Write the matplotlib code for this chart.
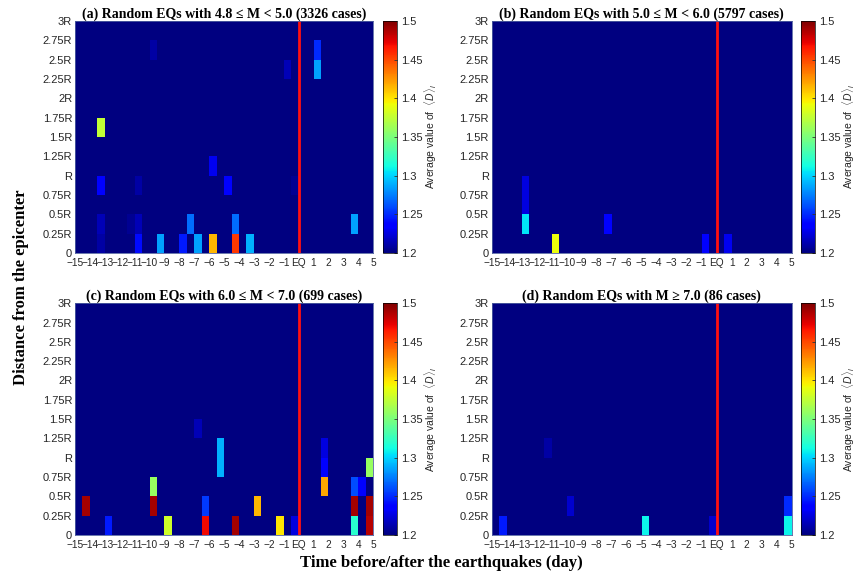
import numpy as np
import matplotlib
matplotlib.use("Agg")
from matplotlib import pyplot as plt

# bins: half-day columns from -15 to 5, 0.25R rows from 0 to 3R
day_edges = np.arange(-15, 5.01, 0.5)
dist_edges = np.arange(0, 3.01, 0.25)
base_value = 1.2

titles = [
    "(a) Random EQs with 4.8 \u2264 M < 5.0 (3326 cases)",
    "(b) Random EQs with 5.0 \u2264 M < 6.0 (5797 cases)",
    "(c) Random EQs with 6.0 \u2264 M < 7.0 (699 cases)",
    "(d) Random EQs with M \u2265 7.0 (86 cases)",
]

# cells above background: (day of left edge, distance of lower edge, value)
cells_a = [
    (-13.5, 1.5, 1.375), (-13.5, 0.75, 1.235), (-13.5, 0.25, 1.215), (-13.5, 0.0, 1.21),
    (-10.0, 2.5, 1.21), (-1.0, 2.25, 1.215), (1.0, 2.5, 1.25), (1.0, 2.25, 1.285),
    (-6.0, 1.0, 1.23), (-5.0, 0.75, 1.235),
    (-11.0, 0.75, 1.21), (-11.0, 0.25, 1.215), (-11.0, 0.0, 1.24), (-11.5, 0.25, 1.205),
    (-9.5, 0.0, 1.285), (-8.0, 0.0, 1.245), (-7.5, 0.25, 1.27), (-7.0, 0.0, 1.285),
    (-6.0, 0.0, 1.415), (-4.5, 0.25, 1.27), (-4.5, 0.0, 1.455), (-3.5, 0.0, 1.29),
    (3.5, 0.25, 1.285), (-0.5, 0.75, 1.205),
]
cells_b = [
    (-13.0, 0.25, 1.305), (-13.0, 0.5, 1.225), (-13.0, 0.75, 1.225),
    (-11.0, 0.0, 1.39), (-7.5, 0.25, 1.235), (-1.0, 0.0, 1.235), (0.5, 0.0, 1.23),
]
cells_c = [
    (-14.5, 0.25, 1.49), (-13.0, 0.0, 1.245), (-10.0, 0.5, 1.36), (-10.0, 0.25, 1.49),
    (-9.0, 0.0, 1.38), (-7.0, 1.25, 1.215), (-6.5, 0.25, 1.255), (-6.5, 0.0, 1.47),
    (-5.5, 0.75, 1.29), (-5.5, 1.0, 1.29), (-4.5, 0.0, 1.49), (-3.0, 0.25, 1.415),
    (-1.5, 0.0, 1.40), (-0.5, 0.0, 1.225),
    (1.5, 0.5, 1.42), (1.5, 0.75, 1.235), (1.5, 1.0, 1.225),
    (3.5, 0.5, 1.26), (3.5, 0.25, 1.49), (3.5, 0.0, 1.32), (4.0, 0.5, 1.235),
    (4.5, 0.75, 1.36), (4.5, 0.25, 1.49), (4.5, 0.0, 1.485),
]
cells_d = [
    (-14.5, 0.0, 1.245), (-11.5, 1.0, 1.21), (-10.0, 0.25, 1.22), (-5.0, 0.0, 1.31),
    (-0.5, 0.0, 1.22), (4.5, 0.25, 1.25), (4.5, 0.0, 1.31),
]
panel_cells = [cells_a, cells_b, cells_c, cells_d]

xtick_vals = np.arange(-15, 6)
xtick_labels = ["\u2212%d" % -v for v in range(-15, 0)] + ["EQ"] + [str(v) for v in range(1, 6)]
ytick_vals = np.arange(0, 3.01, 0.25)
ytick_labels = ["0", "0.25R", "0.5R", "0.75R", "R", "1.25R", "1.5R", "1.75R",
                "2R", "2.25R", "2.5R", "2.75R", "3R"]
cbar_ticks = [1.2, 1.25, 1.3, 1.35, 1.4, 1.45, 1.5]
cbar_labels = ["1.2", "1.25", "1.3", "1.35", "1.4", "1.45", "1.5"]

plt.rcParams['font.family'] = ['Liberation Sans', 'DejaVu Sans']
plt.rcParams['mathtext.fontset'] = 'custom'
plt.rcParams['mathtext.it'] = 'Liberation Sans:italic'
plt.rcParams['mathtext.rm'] = 'Liberation Sans'

fig = plt.figure(figsize=(8.57, 5.75), dpi=100)

# left, bottom, width, height of heatmap, then colorbar left
ax_pos = [
    (0.0875, 0.560, 0.348, 0.4035, 0.4469),
    (0.5737, 0.560, 0.350, 0.4035, 0.9345),
    (0.0875, 0.0696, 0.348, 0.403, 0.4469),
    (0.5737, 0.0696, 0.350, 0.403, 0.9345),
]
txt_col = '#262626'

for i in range(4):
    left, bottom, w, h, cleft = ax_pos[i]
    ax = fig.add_axes([left, bottom, w, h])
    cax = fig.add_axes([cleft, bottom, 0.0162, h])

    grid = np.full((len(dist_edges) - 1, len(day_edges) - 1), base_value)
    for day, dist, val in panel_cells[i]:
        col = int(round((day + 15) / 0.5))
        row = int(round(dist / 0.25))
        grid[row, col] = val

    mesh = ax.pcolormesh(day_edges, dist_edges, grid, cmap='jet', vmin=1.2, vmax=1.5)
    ax.axvline(0, color='#ff1010', lw=2)
    ax.set_xlim(-15, 5)
    ax.set_ylim(0, 3)
    ax.set_xticks(xtick_vals)
    ax.set_xticklabels(xtick_labels)
    ax.set_yticks(ytick_vals)
    ax.set_yticklabels(ytick_labels)
    ax.tick_params(length=0, labelsize=8, labelcolor=txt_col)
    ax.tick_params(axis='x', pad=3.5, labelsize=7.3)
    ax.tick_params(axis='y', pad=2)
    for sp in ax.spines.values():
        sp.set_linewidth(0.6)
        sp.set_color('#5060a0')
    ax.set_title(titles[i], family='Liberation Serif', fontweight='bold',
                 fontsize=10, pad=2)

    cb = fig.colorbar(mesh, cax=cax, ticks=cbar_ticks)
    cb.outline.set_linewidth(0.5)
    cb.ax.tick_params(direction='in', length=2.5, width=0.6, labelsize=8, pad=3,
                      labelcolor=txt_col, color='#333333')
    cb.ax.set_yticklabels(cbar_labels)
    cb.set_label(r"Average value of  $\langle D\rangle_l$", fontsize=7.5, labelpad=0,
                 color=txt_col)

fig.text(0.024, 0.5, "Distance from the epicenter", rotation=90, ha='center',
         va='center', family='Liberation Serif', fontweight='bold', fontsize=12)
fig.text(0.515, 0.021, "Time before/after the earthquakes (day)", ha='center',
         va='center', family='Liberation Serif', fontweight='bold', fontsize=12)

fig.savefig("out.png", dpi=100)
